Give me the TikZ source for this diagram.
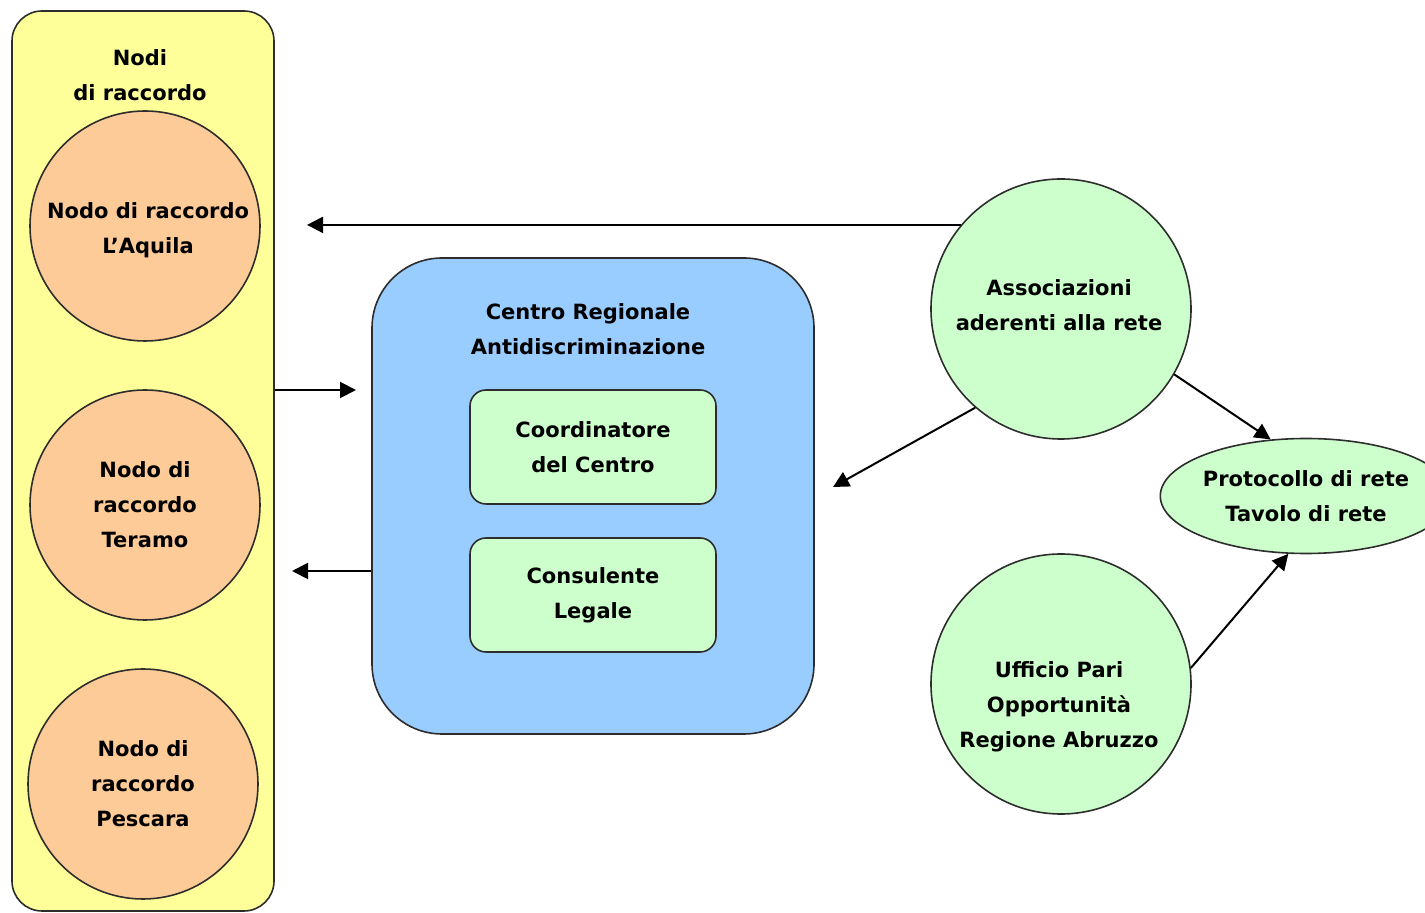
\documentclass[tikz,border=0pt]{standalone}
\usepackage{fontspec}
\setmainfont{DejaVu Sans}
\usetikzlibrary{arrows.meta,shapes.geometric}

\definecolor{nodiyellow}{RGB}{255,255,153}
\definecolor{nodoorange}{RGB}{253,203,152}
\definecolor{centroblue}{RGB}{153,204,255}
\definecolor{retegreen}{RGB}{204,255,204}
\definecolor{edgegray}{RGB}{45,45,45}

\begin{document}
\begin{tikzpicture}[
    font=\bfseries\fontsize{10.5}{17.5}\selectfont,
    >={Triangle[length=8pt,width=8pt]},
    x=0.5pt, y=-0.5pt,
    blob/.style={
        draw=edgegray,
        line width=0.8pt,
        align=center,
        inner sep=0pt
    },
    panel/.style={
        blob,
        rectangle,
        fill=nodiyellow,
        rounded corners=15pt,
        minimum width=131pt,
        minimum height=450pt
    },
    nodo/.style={
        blob,
        circle,
        fill=nodoorange,
        minimum size=115pt
    },
    centro/.style={
        blob,
        rectangle,
        fill=centroblue,
        rounded corners=35pt,
        minimum width=221pt,
        minimum height=238pt
    },
    ruolo/.style={
        blob,
        rectangle,
        fill=retegreen,
        rounded corners=8pt,
        minimum width=123pt,
        minimum height=57pt
    },
    ente/.style={
        blob,
        circle,
        fill=retegreen,
        minimum size=130pt
    },
    protocollo/.style={
        blob,
        ellipse,
        fill=retegreen,
        minimum width=131pt,
        minimum height=57.5pt
    },
    arrow/.style={
        ->,
        line width=1pt,
        draw=black
    },
    title/.style={
        align=center,
        inner sep=0pt
    }
]

% ---------------------------------------------------------
% Canvas
% ---------------------------------------------------------
\path[use as bounding box] (0,0) rectangle (1425,913);

% ---------------------------------------------------------
% Nodi di raccordo
% ---------------------------------------------------------
\node[panel] (nodi) at (143,461) {};
\node[title] (noditit) at (140,75) {Nodi\\di raccordo};

\node[nodo] (aquila) at (145,226) {};
\node[title] (aquilatxt) at (148,230) {Nodo di raccordo\\L'Aquila};
\node[nodo] (teramo) at (145,505) {Nodo di\\raccordo\\Teramo};
\node[nodo] (pescara) at (143,784) {Nodo di\\raccordo\\Pescara};

% ---------------------------------------------------------
% Centro Regionale
% ---------------------------------------------------------
\node[centro] (centro) at (593,496) {};
\node[title] (centrotit) at (588,329) {Centro Regionale\\Antidiscriminazione};

\node[ruolo] (coord) at (593,447) {Coordinatore\\del Centro};
\node[ruolo] (legale) at (593,595) {Consulente\\Legale};

% ---------------------------------------------------------
% Rete
% ---------------------------------------------------------
\node[ente] (assoc) at (1061,309) {};
\node[title] (assoctxt) at (1059,305) {Associazioni\\aderenti alla rete};

\node[ente] (ufficio) at (1061,684) {};
\node[title] (ufficiotxt) at (1059,707) {Ufficio Pari\\Opportunità\\Regione Abruzzo};

\node[protocollo] (proto) at (1306,496) {Protocollo di rete\\Tavolo di rete};

% ---------------------------------------------------------
% Connectors
% ---------------------------------------------------------
\coordinate (aqtip) at (307,226);
\coordinate (intip) at (356,390);
\coordinate (outtip) at (292,571);
\coordinate (crtip) at (833,487);

\draw[arrow] (assoc.140) -- (assoc.140 -| aqtip);
\draw[arrow] (intip -| nodi.east) -- (intip);
\draw[arrow] (outtip -| centro.west) -- (outtip);
\draw[arrow] (assoc.229) -- (crtip);
\draw[arrow] (assoc.330) -- (proto.122);
\draw[arrow] (ufficio.7) -- (proto.253);

\end{tikzpicture}
\end{document}
